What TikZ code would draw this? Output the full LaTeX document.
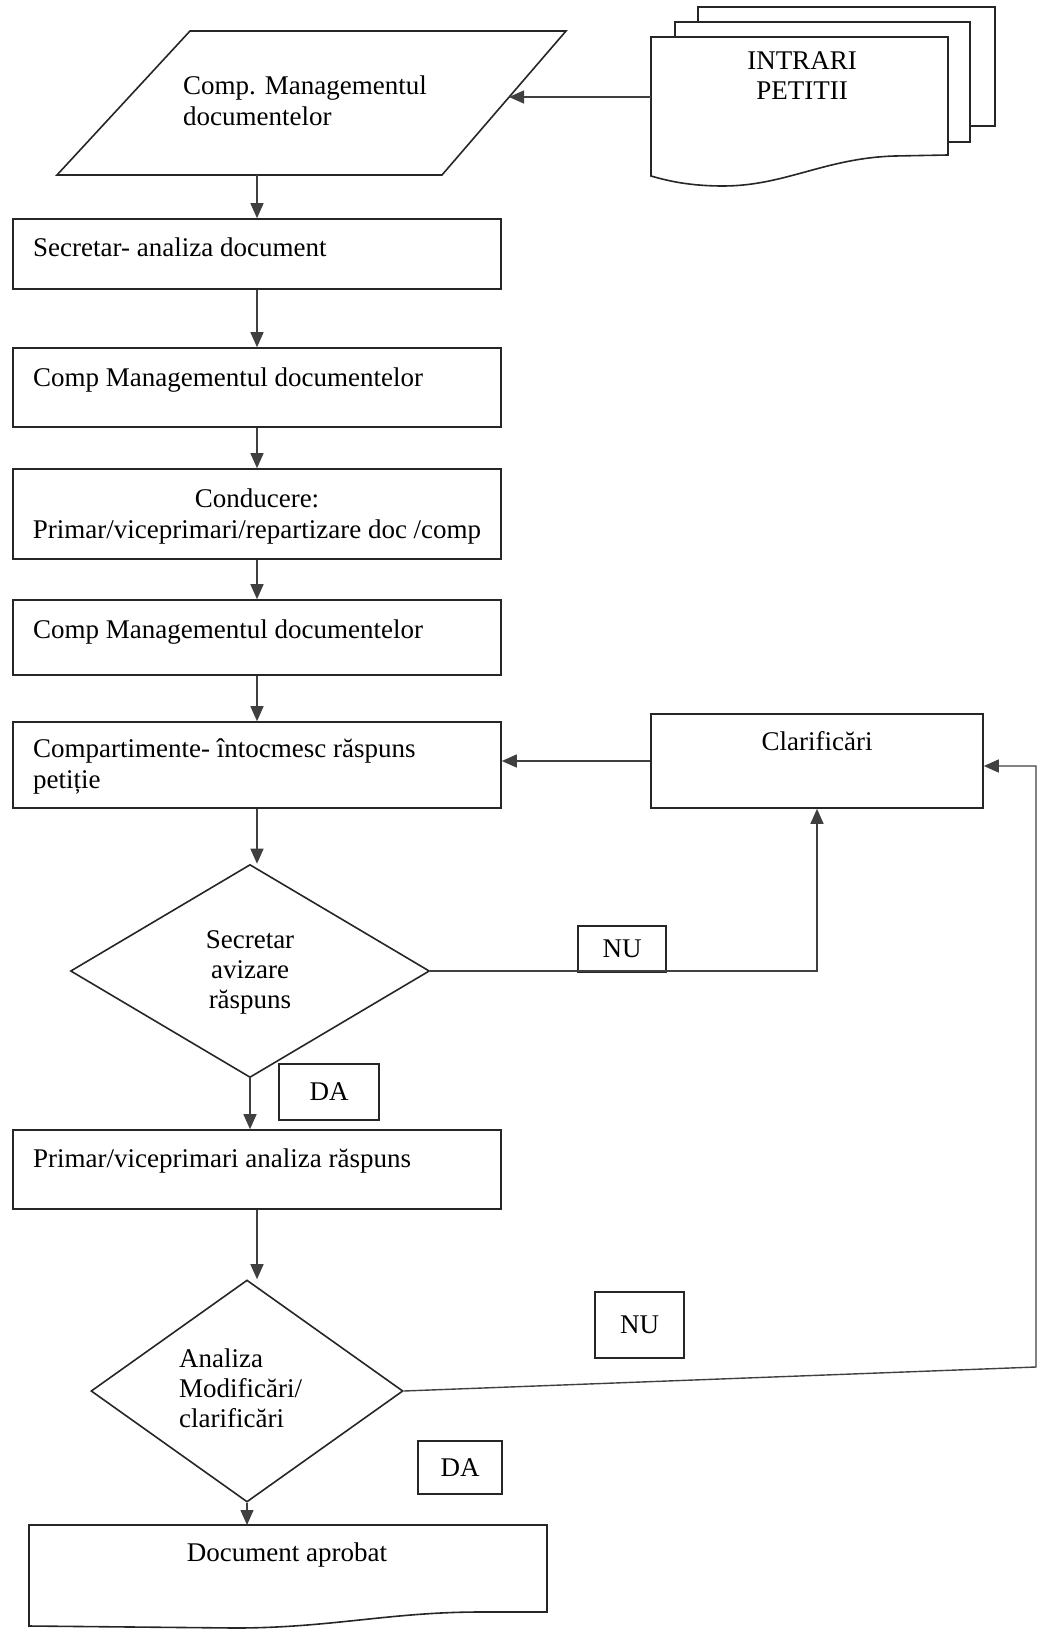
\documentclass[tikz,border=0pt]{standalone}
\usepackage{fontspec}
\setmainfont{Liberation Serif}
\usetikzlibrary{shapes.geometric,arrows.meta}
\begin{document}
\begin{tikzpicture}[x=1pt,y=-1pt,
  every node/.style={font=\fontsize{27}{31}\selectfont},
  ln/.style={draw=black!85, line width=1.6pt},
  box/.style={ln, rectangle, inner sep=0pt},
  dia/.style={ln, diamond, inner sep=0pt},
  hold/.style={inner sep=0pt, outer sep=0pt},
  txt/.style={inner sep=0pt, anchor=base west},
  ctxt/.style={inner sep=0pt, anchor=base},
  con/.style={draw=black!75, line width=1.4pt},
  arr/.style={con, -{Triangle[length=15pt,width=13pt]}}]
\useasboundingbox (0,0) rectangle (1042,1629);

% input parallelogram
\draw[ln] (190,31) -- (566,31) -- (442,175) -- (57,175) -- cycle;
\coordinate (paraR) at (509,97);
\coordinate (paraB) at (257,175);
\node[txt] (tp1) at (183,95) {Comp. Managementul};
\node[txt] (tp2) at (183,126) {documentelor};

% stacked documents
\draw[ln, fill=white] (698,7) rectangle (995,126);
\draw[ln, fill=white] (675,22) rectangle (970,142);
\draw[ln, fill=white] (651,37) -- (948,37) -- (948,155) -- (895,156)
  .. controls (825,158) and (785,186) .. (723,186)
  .. controls (690,186) and (668,181) .. (651,176) -- cycle;
\node[hold, minimum width=297, minimum height=140] (docin) at (799.5,107) {};
\node[ctxt] (ti1) at (802,70) {INTRARI};
\node[ctxt] (ti2) at (802,100) {PETITII};

% process boxes
\node[box, minimum width=488, minimum height=70] (b1) at (257,254) {};
\node[txt] (t1) at (33,257) {Secretar- analiza document};
\node[box, minimum width=488, minimum height=79] (b2) at (257,387.5) {};
\node[txt] (t2) at (33,386) {Comp Managementul documentelor};
\node[box, minimum width=488, minimum height=90] (b3) at (257,514) {};
\node[ctxt] (t3a) at (257,507) {Conducere:};
\node[ctxt] (t3b) at (257,538) {Primar/viceprimari/repartizare doc /comp};
\node[box, minimum width=488, minimum height=75] (b4) at (257,637.5) {};
\node[txt] (t4) at (33,638) {Comp Managementul documentelor};
\node[box, minimum width=488, minimum height=86] (b5) at (257,765) {};
\node[txt] (t5a) at (33,757) {Compartimente- întocmesc răspuns};
\node[txt] (t5b) at (33,788) {petiție};
\node[box, minimum width=332, minimum height=94] (clar) at (817,761) {};
\node[ctxt] (tc) at (817,750) {Clarificări};

% decision 1
\node[dia, minimum width=359, minimum height=213] (d1) at (250,971) {};
\node[ctxt] (td1a) at (250,948) {Secretar};
\node[ctxt] (td1b) at (250,978) {avizare};
\node[ctxt] (td1c) at (250,1008) {răspuns};
\node[box, minimum width=88, minimum height=46] (nu1) at (622,949) {NU};
\node[box, minimum width=100, minimum height=56] (da1) at (329,1092) {DA};

\node[box, minimum width=488, minimum height=79] (b6) at (257,1169.5) {};
\node[txt] (t6) at (33,1167) {Primar/viceprimari analiza răspuns};

% decision 2
\node[dia, minimum width=312, minimum height=222] (d2) at (247,1391) {};
\node[txt] (td2a) at (179,1367) {Analiza};
\node[txt] (td2b) at (179,1397) {Modificări/};
\node[txt] (td2c) at (179,1427) {clarificări};
\node[box, minimum width=89, minimum height=66] (nu2) at (639.5,1325) {NU};
\node[box, minimum width=84, minimum height=53] (da2) at (460,1467.5) {DA};

% output document
\draw[ln] (29,1626) -- (29,1525) -- (547,1525) -- (547,1612) -- (480,1612)
  .. controls (390,1612) and (330,1628) .. (235,1628) -- cycle;
\node[hold, minimum width=518, minimum height=100] (docok) at (288,1575) {};
\node[ctxt] (tdoc) at (287,1561) {Document aprobat};

% connectors
\draw[arr] (docin.west |- paraR) -- (paraR);
\draw[arr] (paraB) -- (b1.north);
\draw[arr] (b1.south) -- (b2.north);
\draw[arr] (b2.south) -- (b3.north);
\draw[arr] (b3.south) -- (b4.north);
\draw[arr] (b4.south) -- (b5.north);
\draw[arr] (b5.south) -- (b5.south |- d1.north);
\draw[arr] (clar.west) -- (b5.east |- clar.west);
\draw[arr] (d1.east) -- (d1.east -| clar.south) -- (clar.south);
\draw[arr] (d1.south) -- (d1.south |- b6.north);
\draw[arr] (b6.south) -- (b6.south |- d2.north);
\coordinate (rc1) at (1036,1367);
\coordinate (rc2) at (1036,766);
\draw[arr] (d2.east) -- (rc1) -- (rc2) -- (clar.east |- rc2);
\draw[arr] (d2.south) -- (d2.south |- docok.north);
\end{tikzpicture}
\end{document}
